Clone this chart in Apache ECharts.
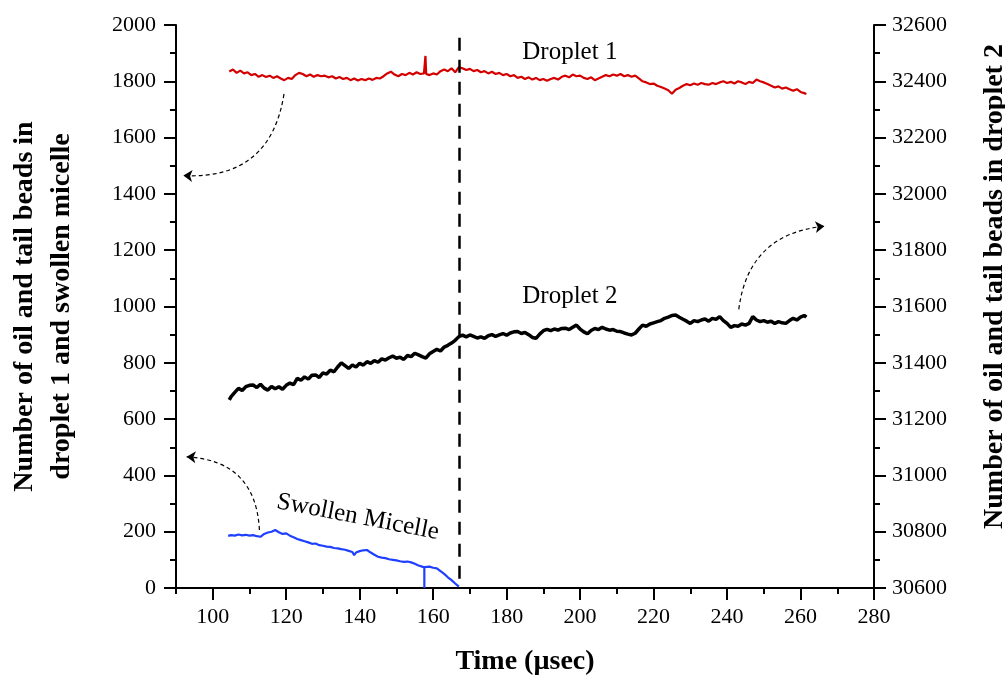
<!DOCTYPE html>
<html>
<head>
<meta charset="utf-8">
<script src="https://cdn.jsdelivr.net/npm/echarts@6/dist/echarts.min.js"></script>
<style>
  html, body { margin: 0; padding: 0; background: #fff; }
  #box { width: 1005px; height: 677px; }
</style>
</head>
<body>
<div id="box"></div>
<script>
// droplet 1 (left axis)
var d1Time = [104.5,105.5,106.5,107.5,108.5,109.5,110.5,111.5,112.5,113.5,114.5,115.5,116.5,117.5,118.5,119.5,120.5,121.5,122.5,123.5,124.5,125.5,126.5,127.5,128.5,129.5,130.5,131.5,132.5,133.5,134.5,135.5,136.5,137.5,138.5,139.5,140.5,141.5,142.5,143.5,144.5,145.5,146.5,147.5,148.5,149.5,150.5,151.5,152.5,153.5,154.5,155.5,156.5,157.5,157.9,158.1,159,160,161,162,163,164,165,166,167,168,169,170,171,172,173,174,175,176,177,178,179,180,181,182,183,184,185,186,187,188,189,190,191,192,193,194,195,196,197,198,199,200,201,202,203,204,205,206,207,208,209,210,211,212,213,214,215,216,217,218,219,220,221,222,223,224,225,226,227,228,229,230,231,232,233,234,235,236,237,238,239,240,241,242,243,244,245,246,247,248,249,250,251,252,253,254,255,256,257,258,259,260,261,261.6];
var d1Value = [1835,1842,1830,1838,1828,1832,1822,1826,1816,1822,1815,1820,1812,1818,1810,1804,1812,1808,1822,1830,1826,1818,1824,1816,1822,1818,1820,1814,1818,1810,1815,1808,1812,1804,1810,1803,1808,1804,1810,1805,1812,1810,1818,1828,1834,1824,1818,1826,1822,1830,1824,1832,1826,1828,1890,1826,1822,1828,1824,1836,1842,1836,1846,1832,1850,1846,1840,1844,1836,1840,1832,1836,1828,1834,1826,1830,1822,1826,1818,1822,1812,1816,1808,1814,1806,1812,1804,1808,1802,1808,1812,1806,1816,1820,1814,1824,1818,1820,1812,1808,1814,1804,1810,1816,1822,1818,1824,1820,1826,1818,1822,1816,1820,1810,1800,1796,1790,1792,1784,1780,1774,1768,1756,1770,1776,1784,1790,1786,1792,1788,1794,1790,1788,1794,1790,1796,1800,1794,1798,1792,1800,1796,1790,1798,1794,1806,1800,1796,1790,1784,1778,1782,1774,1778,1772,1766,1772,1762,1758,1755];

// droplet 2 (right axis)
var d2Time = [104.5,105,106,107,108,109,110,111,112,113,114,115,116,117,118,119,120,121,122,123,124,125,126,127,128,129,130,131,132,133,134,135,136,137,138,139,140,141,142,143,144,145,146,147,148,149,150,151,152,153,154,155,156,157,158,159,160,161,162,163,164,165,166,167,168,169,170,171,172,173,174,175,176,177,178,179,180,181,182,183,184,185,186,187,188,189,190,191,192,193,194,195,196,197,198,199,200,201,202,203,204,205,206,207,208,209,210,211,212,213,214,215,216,217,218,219,220,221,222,223,224,225,226,227,228,229,230,231,232,233,234,235,236,237,238,239,240,241,242,243,244,245,246,247,248,249,250,251,252,253,254,255,256,257,258,259,260,261,261.6];
var d2Value = [31268,31280,31295,31309,31302,31315,31320,31321,31312,31324,31310,31303,31316,31308,31315,31306,31320,31328,31322,31345,31338,31350,31342,31356,31357,31348,31364,31360,31374,31368,31385,31400,31390,31380,31392,31385,31398,31392,31404,31398,31408,31402,31414,31410,31418,31424,31416,31420,31412,31426,31422,31434,31428,31422,31417,31432,31440,31448,31442,31456,31462,31470,31480,31493,31498,31492,31499,31494,31488,31492,31487,31496,31500,31494,31499,31504,31498,31506,31510,31511,31504,31508,31500,31490,31487,31502,31514,31519,31514,31520,31516,31522,31523,31518,31526,31534,31520,31510,31503,31515,31522,31518,31526,31520,31516,31518,31512,31511,31506,31502,31499,31505,31520,31534,31530,31538,31542,31546,31550,31558,31562,31568,31570,31562,31555,31548,31540,31550,31546,31552,31556,31548,31558,31554,31564,31550,31540,31526,31532,31530,31538,31534,31540,31564,31552,31546,31550,31544,31548,31540,31546,31542,31540,31550,31558,31552,31562,31568,31562];

// swollen micelle (left axis)
var smTime = [104.2,105,106,107,108,109,110,111,112,113,114,115,116,117,118,119,120,121,122,123,124,125,126,127,128,129,130,131,132,133,134,135,136,137,138,138.5,139,140,141,142,143,144,145,146,147,148,149,150,151,152,153,154,155,156,157,157.6,157.6,157.6,158,159,160,161,162,163,164,165,166,167];
var smValue = [185,188,186,190,187,189,186,188,184,182,192,197,200,206,198,192,194,186,180,174,170,166,162,157,158,152,150,147,146,142,141,138,136,132,128,117,126,131,134,135,126,118,111,108,106,102,100,98,95,93,94,91,86,80,76,73,0,74,78,76,72,70,60,50,38,28,16,5];

var xTicks = [100,120,140,160,180,200,220,240,260,280];
var cutTime = 167;

// dashed arrows: [from, to, curveness], left-axis units
var arrows = [
  [[119.4, 1755], [92, 1465], 0.45],
  [[243.2, 990], [266.5, 1285], 0.4],
  [[112.7, 206], [92.9, 466], -0.45]
];

var serif = '"Liberation Serif", "Times New Roman", serif';

function pairs(t, v) {
  var out = [];
  for (var i = 0; i < t.length; i++) out.push([t[i], v[i]]);
  return out;
}

var chart = echarts.init(document.getElementById("box"));

var option = {
  animation: false,
  backgroundColor: "#fff",
  grid: { left: 176, right: 131, top: 25, bottom: 89, outerBoundsMode: "none", containLabel: false },
  xAxis: [
    {
      type: "value",
      min: 90,
      max: 280,
      interval: 10,
      name: "Time (µsec)",
      nameLocation: "middle",
      nameGap: 60,
      nameTextStyle: { fontFamily: serif, fontSize: 28, fontWeight: "bold", color: "#000" },
      axisLine: { lineStyle: { color: "#000", width: 2 } },
      axisTick: { length: 6, lineStyle: { color: "#000", width: 2 } },
      axisLabel: {
        margin: 18,
        fontFamily: serif,
        fontSize: 22,
        color: "#000",
        formatter: function (v) { return xTicks.indexOf(v) >= 0 ? String(v) : ""; }
      },
      splitLine: { show: false }
    },
    {
      // long ticks at the labelled values
      type: "value",
      position: "bottom",
      min: 90,
      max: 280,
      interval: 10,
      axisLine: { show: false },
      axisTick: { length: 12, customValues: xTicks, lineStyle: { color: "#000", width: 2 } },
      axisLabel: { show: false },
      splitLine: { show: false }
    }
  ],
  yAxis: [
    {
      type: "value",
      min: 0,
      max: 2000,
      interval: 200,
      name: "Number of oil and tail beads in\ndroplet 1 and swollen micelle",
      nameLocation: "middle",
      nameGap: 96,
      nameTextStyle: { fontFamily: serif, fontSize: 28, fontWeight: "bold", color: "#000", lineHeight: 37 },
      axisLine: { show: true, lineStyle: { color: "#000", width: 2 } },
      axisTick: { show: true, length: 12, lineStyle: { color: "#000", width: 2 } },
      minorTick: { show: true, splitNumber: 2, length: 6, lineStyle: { color: "#000", width: 2 } },
      axisLabel: {
        margin: 20, fontFamily: serif, fontSize: 22, color: "#000",
        formatter: function (v) { return String(v); }
      },
      splitLine: { show: false }
    },
    {
      type: "value",
      min: 30600,
      max: 32600,
      interval: 200,
      position: "right",
      name: "Number of oil and tail beads in droplet 2",
      nameLocation: "middle",
      nameRotate: 90,
      nameGap: 107,
      nameTextStyle: { fontFamily: serif, fontSize: 28, fontWeight: "bold", color: "#000", padding: [0, 0, 0, 40] },
      axisLine: { show: true, lineStyle: { color: "#000", width: 2 } },
      axisTick: { show: true, length: 12, lineStyle: { color: "#000", width: 2 } },
      minorTick: { show: true, splitNumber: 2, length: 6, lineStyle: { color: "#000", width: 2 } },
      axisLabel: {
        margin: 18, fontFamily: serif, fontSize: 22, color: "#000",
        formatter: function (v) { return String(v); }
      },
      splitLine: { show: false }
    }
  ],
  series: [
    {
      name: "Droplet 1",
      type: "line",
      yAxisIndex: 0,
      data: pairs(d1Time, d1Value),
      showSymbol: false,
      lineStyle: { color: "#d40000", width: 2.2 },
      z: 3,
      markLine: {
        silent: true,
        animation: false,
        symbol: ["none", "none"],
        label: { show: false },
        emphasis: { disabled: true },
        lineStyle: { color: "#000", width: 2.5, type: [13, 9] },
        data: [
          [{ coord: [cutTime, 1955] }, { coord: [cutTime, 0] }]
        ]
      }
    },
    {
      name: "Droplet 2",
      type: "line",
      yAxisIndex: 1,
      data: pairs(d2Time, d2Value),
      showSymbol: false,
      lineStyle: { color: "#000", width: 3.5 },
      z: 2
    },
    {
      name: "Swollen Micelle",
      type: "line",
      yAxisIndex: 0,
      data: pairs(smTime, smValue),
      showSymbol: false,
      lineStyle: { color: "#2040ff", width: 2.2 },
      z: 2
    },
    {
      name: "arrows",
      type: "lines",
      coordinateSystem: "cartesian2d",
      xAxisIndex: 0,
      yAxisIndex: 0,
      silent: true,
      symbol: ["none", "arrow"],
      symbolSize: 9,
      lineStyle: { color: "#000", width: 1.2, type: [4, 3], opacity: 1 },
      data: arrows.map(function (a) {
        return { coords: [a[0], a[1]], lineStyle: { curveness: a[2] } };
      }),
      z: 4
    }
  ]
};

chart.setOption(option);

// text labels placed at data positions
var notes = [
  { text: "Droplet 1", at: [197.2, 1904], rot: 0 },
  { text: "Droplet 2", at: [197.2, 1034], rot: 0 },
  { text: "Swollen Micelle", at: [139.5, 252], rot: -0.19 }
];
var graphics = notes.map(function (n) {
  var p = chart.convertToPixel({ xAxisIndex: 0, yAxisIndex: 0 }, n.at);
  return {
    type: "text",
    x: p[0],
    y: p[1],
    rotation: n.rot,
    style: {
      text: n.text,
      fontFamily: serif,
      fontSize: 25,
      fill: "#000",
      align: "center",
      verticalAlign: "middle"
    }
  };
});
chart.setOption({ graphic: graphics });
</script>
</body>
</html>
